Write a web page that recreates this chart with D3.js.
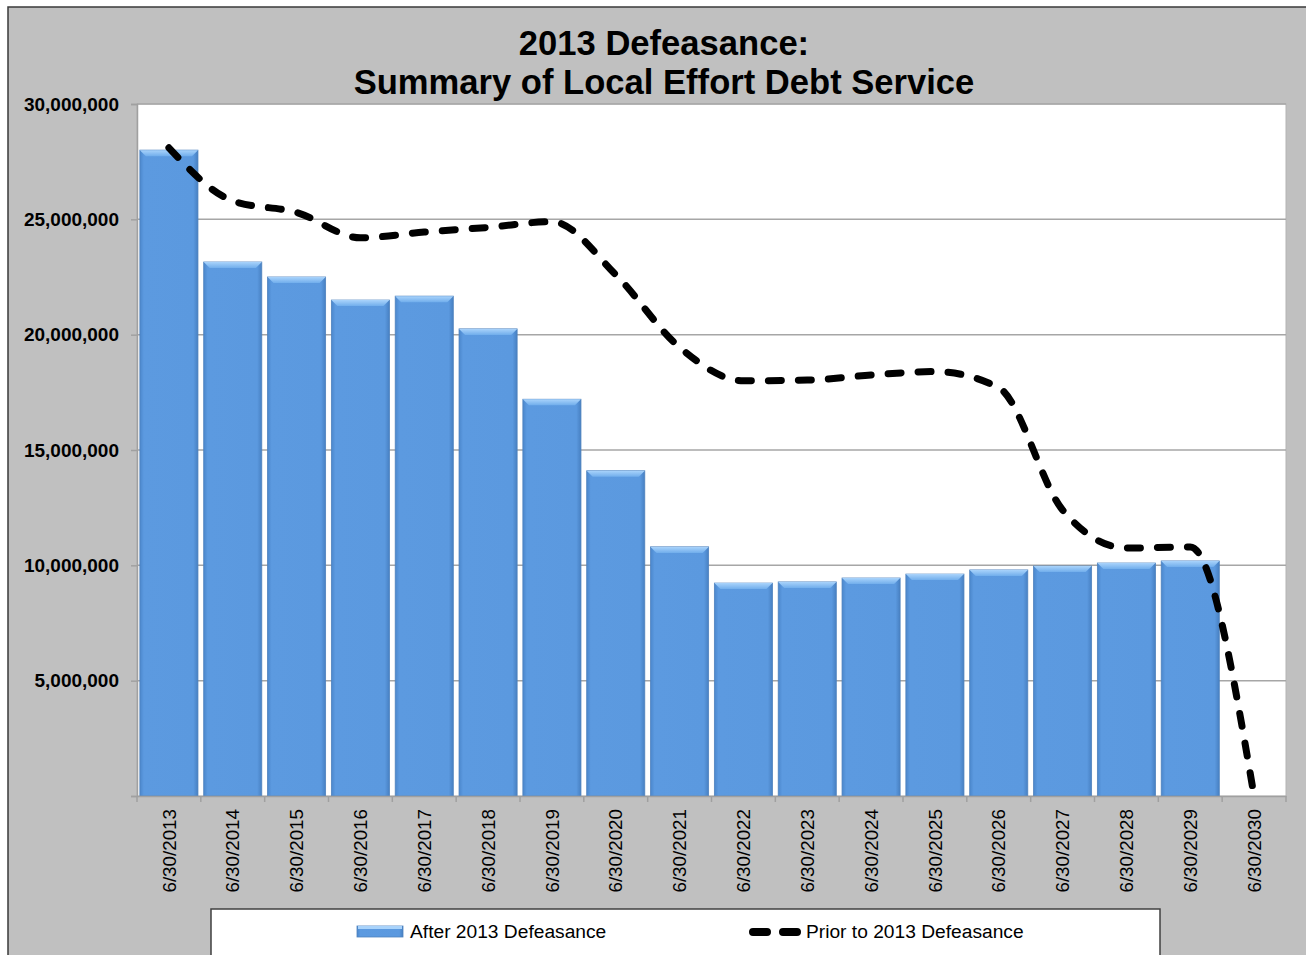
<!DOCTYPE html>
<html>
<head>
<meta charset="utf-8">
<script src="https://cdn.jsdelivr.net/npm/d3@7"></script>
<style>
  body { margin: 0; background: #fff; }
  text { font-family: "Liberation Sans", Arial, sans-serif; }
</style>
</head>
<body>
<svg width="1306" height="955"></svg>
<script>
// fiscal years
var dates = ["6/30/2013", "6/30/2014", "6/30/2015", "6/30/2016", "6/30/2017", "6/30/2018",
    "6/30/2019", "6/30/2020", "6/30/2021", "6/30/2022", "6/30/2023", "6/30/2024",
    "6/30/2025", "6/30/2026", "6/30/2027", "6/30/2028", "6/30/2029", "6/30/2030"];

// after 2013 defeasance (bars)
var afterValues = [28000000, 23150000, 22500000, 21500000, 21670000, 20250000,
    17200000, 14100000, 10800000, 9230000, 9280000, 9450000,
    9620000, 9800000, 9970000, 10100000, 10190000, 0];

// prior to 2013 defeasance (dashed line)
var priorValues = [28100000, 25800000, 25300000, 24200000, 24450000, 24650000,
    24900000, 22600000, 19450000, 18000000, 18030000, 18250000,
    18400000, 17700000, 12400000, 10750000, 10800000, 0];

var yTicks = [5000000, 10000000, 15000000, 20000000, 25000000, 30000000];
var titleLines = ["2013 Defeasance:", "Summary of Local Effort Debt Service"];
var seriesNames = ["After 2013 Defeasance", "Prior to 2013 Defeasance"];

var svg = d3.select("svg"),
    margin = {top: 104, right: 20, bottom: 159, left: 137},
    width = 1286 - margin.left,
    height = 796 - margin.top;

var defs = svg.append("defs");
var barGrad = defs.append("linearGradient").attr("id", "barGrad")
    .attr("x1", "0").attr("x2", "1").attr("y1", "0").attr("y2", "0");
barGrad.append("stop").attr("offset", "0%").attr("stop-color", "#4b87cc");
barGrad.append("stop").attr("offset", "7%").attr("stop-color", "#5c9ae0");
barGrad.append("stop").attr("offset", "92%").attr("stop-color", "#5b99df");
barGrad.append("stop").attr("offset", "100%").attr("stop-color", "#4780c2");
var topGrad = defs.append("linearGradient").attr("id", "topGrad")
    .attr("x1", "0").attr("x2", "0").attr("y1", "0").attr("y2", "1");
topGrad.append("stop").attr("offset", "0%").attr("stop-color", "#a9d3fb");
topGrad.append("stop").attr("offset", "100%").attr("stop-color", "#71aeec");

// chart frame
svg.append("rect")
    .attr("x", 8).attr("y", 7)
    .attr("width", 1320).attr("height", 980)
    .attr("fill", "#c0c0c0")
    .attr("stroke", "#3a3a3a").attr("stroke-width", 1.5);

var x = d3.scaleBand().domain(dates).range([0, width]).paddingInner(0.09).paddingOuter(0.045),
    y = d3.scaleLinear().domain([0, 30000000]).range([height, 0]);

var g = svg.append("g")
    .attr("transform", "translate(" + margin.left + "," + margin.top + ")");

g.append("rect")
    .attr("width", width).attr("height", height)
    .attr("fill", "#fff")
    .attr("stroke", "#b4b4b4").attr("stroke-width", 1);

// gridlines
g.selectAll(".grid")
    .data(yTicks)
    .enter().append("line")
    .attr("class", "grid")
    .attr("x1", 0).attr("x2", width)
    .attr("y1", function (d) { return y(d); })
    .attr("y2", function (d) { return y(d); })
    .attr("stroke", "#a6a6a6").attr("stroke-width", 1.5);

// y axis
var yAxis = g.append("g")
    .call(d3.axisLeft(y).tickValues([0].concat(yTicks)).tickSize(6).tickPadding(12)
        .tickFormat(function (d) { return d === 0 ? "" : d3.format(",")(d); }));
yAxis.select(".domain").attr("stroke", "#a0a0a0").attr("stroke-width", 1.5);
yAxis.selectAll(".tick line").attr("stroke", "#a0a0a0").attr("stroke-width", 1.5);
yAxis.selectAll(".tick text")
    .attr("fill", "#000")
    .style("font-size", "19px").style("font-weight", "bold")
    .style("font-family", "'Liberation Sans', Arial, sans-serif");

// bars
var bars = g.selectAll(".bar")
    .data(afterValues.map(function (v, i) { return {date: dates[i], value: v}; })
        .filter(function (d) { return d.value > 0; }))
    .enter().append("g").attr("class", "bar");

bars.append("rect")
    .attr("x", function (d) { return x(d.date); })
    .attr("y", function (d) { return y(d.value); })
    .attr("width", x.bandwidth())
    .attr("height", function (d) { return height - y(d.value); })
    .attr("fill", "url(#barGrad)")
    .attr("stroke", "#4f82bd").attr("stroke-width", 0.8);

bars.append("path")
    .attr("d", function (d) {
        var x0 = x(d.date), x1 = x0 + x.bandwidth(), y0 = y(d.value);
        return "M" + x0 + "," + y0 + "L" + x1 + "," + y0 + "L" + (x1 - 6) + "," + (y0 + 6) +
            "L" + (x0 + 6) + "," + (y0 + 6) + "Z";
    })
    .attr("fill", "url(#topGrad)");

// x axis
var xAxis = g.append("g")
    .attr("transform", "translate(0," + height + ")")
    .call(d3.axisBottom(x).tickSize(0).tickPadding(0));
xAxis.select(".domain").attr("stroke", "#a0a0a0").attr("stroke-width", 1.5);
xAxis.selectAll(".tick text")
    .attr("transform", "rotate(-90)")
    .attr("x", -13).attr("y", 0).attr("dy", "0.35em")
    .attr("text-anchor", "end")
    .attr("fill", "#000")
    .style("font-size", "18.8px")
    .style("font-family", "'Liberation Sans', Arial, sans-serif");

// category boundary ticks
g.selectAll(".xtick")
    .data(dates.concat(["end"]))
    .enter().append("line")
    .attr("class", "xtick")
    .attr("x1", function (d, i) { return i * x.step(); })
    .attr("x2", function (d, i) { return i * x.step(); })
    .attr("y1", height).attr("y2", height + 6)
    .attr("stroke", "#a0a0a0").attr("stroke-width", 1.5);

// prior line
var line = d3.line()
    .x(function (d, i) { return x(dates[i]) + x.bandwidth() / 2; })
    .y(function (d) { return y(d); })
    .curve(d3.curveMonotoneX);

g.append("path")
    .datum(priorValues)
    .attr("d", line)
    .attr("fill", "none")
    .attr("stroke", "#000")
    .attr("stroke-width", 7)
    .attr("stroke-linecap", "round")
    .attr("stroke-dasharray", "13,17");

// title
svg.selectAll(".title")
    .data(titleLines)
    .enter().append("text")
    .attr("class", "title")
    .attr("x", 664)
    .attr("y", function (d, i) { return 55 + i * 39; })
    .attr("text-anchor", "middle")
    .style("font-size", "34.6px").style("font-weight", "bold")
    .text(function (d) { return d; });

// legend
var legend = svg.append("g");
legend.append("rect")
    .attr("x", 211).attr("y", 909)
    .attr("width", 949).attr("height", 60)
    .attr("fill", "#fff")
    .attr("stroke", "#404040").attr("stroke-width", 1.5);

legend.append("rect")
    .attr("x", 357).attr("y", 926)
    .attr("width", 46).attr("height", 11)
    .attr("fill", "url(#barGrad)")
    .attr("stroke", "#4f82bd").attr("stroke-width", 0.8);
legend.append("rect")
    .attr("x", 358).attr("y", 926)
    .attr("width", 44).attr("height", 3)
    .attr("fill", "#a9d3fb");
legend.append("text")
    .attr("x", 410).attr("y", 938)
    .style("font-size", "19.2px")
    .text(seriesNames[0]);

legend.append("line")
    .attr("x1", 753).attr("x2", 797)
    .attr("y1", 932).attr("y2", 932)
    .attr("stroke", "#000").attr("stroke-width", 8)
    .attr("stroke-linecap", "round")
    .attr("stroke-dasharray", "14,16");
legend.append("text")
    .attr("x", 806).attr("y", 938)
    .style("font-size", "19.2px")
    .text(seriesNames[1]);
</script>
</body>
</html>
